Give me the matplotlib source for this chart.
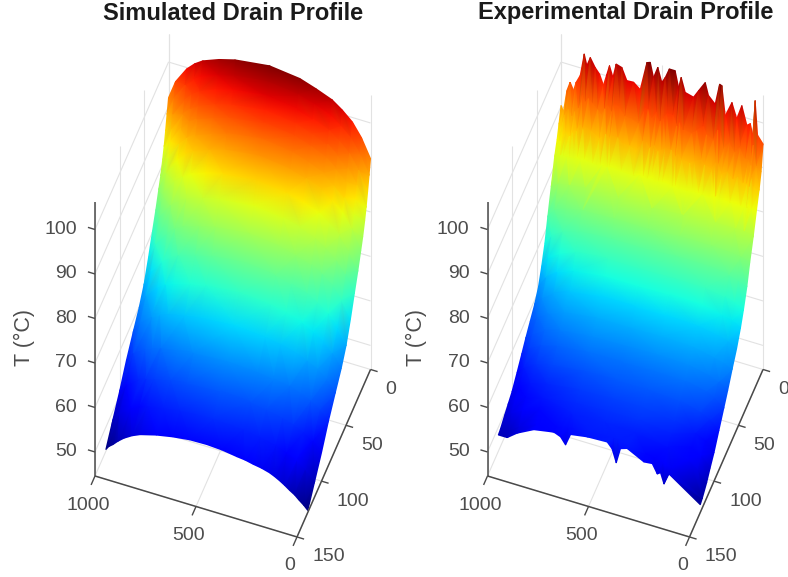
import numpy as np
import matplotlib
matplotlib.use("Agg")
import matplotlib.pyplot as plt
import matplotlib.tri as mtri
from mpl_toolkits.mplot3d import proj3d

plt.rcParams['font.family'] = ['Liberation Sans', 'DejaVu Sans']

x_ticks = [1000, 500, 0]
y_ticks = [0, 50, 100, 150]
z_ticks = [50, 60, 70, 80, 90, 100]
x_lim = (0, 1000)
y_lim = (0, 150)
z_lim = (44.6, 106.2)

# values, x along the drain, y is time
sim_x = [0, 45, 90, 140, 190, 270, 350, 500, 670, 750, 830, 870, 910, 965, 1000]
sim_y = [0, 3, 6, 9, 12, 16, 20, 26, 33, 41, 50, 60, 72, 86, 100, 114, 128]
sim_T = [
    [92, 96.1, 99, 101, 102.6, 104, 105.2, 106, 105, 104, 102.6, 101.4, 99.7, 96.1, 92],
    [89, 93.1, 96.1, 98.1, 99.8, 101.2, 102.3, 103.2, 102.2, 101.2, 99.8, 98.6, 96.8, 93.1, 89],
    [86, 90.3, 93.4, 95.5, 97.2, 98.7, 99.9, 100.8, 99.8, 98.7, 97.2, 96, 94.1, 90.3, 86],
    [83.3, 87.7, 90.9, 93, 94.9, 96.4, 97.6, 98.5, 97.4, 96.3, 94.9, 93.6, 91.7, 87.7, 83.3],
    [81, 85.4, 88.7, 90.8, 92.6, 94.2, 95.4, 96.3, 95.2, 94, 92.6, 91.3, 89.4, 85.4, 81],
    [78.4, 82.8, 86, 88.1, 90, 91.5, 92.7, 93.6, 92.5, 91.4, 90, 88.7, 86.8, 82.8, 78.4],
    [76.3, 80.6, 83.7, 85.7, 87.5, 88.9, 90.1, 91, 90, 88.9, 87.5, 86.3, 84.4, 80.6, 76.3],
    [73.2, 77.2, 80.1, 82, 83.7, 85.1, 86.2, 87, 86, 85, 83.7, 82.5, 80.8, 77.2, 73.2],
    [70, 73.8, 76.5, 78.3, 79.9, 81.2, 82.2, 83, 82.1, 81.1, 79.9, 78.8, 77.2, 73.8, 70],
    [66.2, 69.9, 72.5, 74.3, 75.8, 77, 78, 78.8, 77.9, 77, 75.8, 74.8, 73.1, 69.9, 66.2],
    [62.5, 65.9, 68.4, 70.1, 71.5, 72.6, 73.6, 74.3, 73.5, 72.6, 71.5, 70.5, 69, 65.9, 62.5],
    [59.8, 62.8, 64.9, 66.3, 67.6, 68.6, 69.4, 70, 69.3, 68.6, 67.6, 66.7, 65.4, 62.8, 59.8],
    [57.4, 59.8, 61.5, 62.6, 63.6, 64.5, 65.1, 65.6, 65, 64.4, 63.6, 62.9, 61.9, 59.8, 57.4],
    [54.5, 56.5, 57.9, 58.9, 59.7, 60.3, 60.9, 61.3, 60.8, 60.3, 59.7, 59.1, 58.2, 56.5, 54.5],
    [51, 53, 54.5, 55.5, 56.3, 57, 57.6, 58, 57.5, 57, 56.3, 55.7, 54.9, 53, 51],
    [48, 50.1, 51.7, 52.7, 53.6, 54.4, 55, 55.4, 54.9, 54.3, 53.6, 53, 52.1, 50.1, 48],
    [45, 46.8, 48.3, 49.8, 50.9, 51.7, 52.3, 53, 52.4, 51.7, 50.7, 49.9, 48.8, 46.6, 45],
]
# extra readings along the low outline of the simulated surface
sim_end_x = [20, 65, 115, 165, 230, 310, 425, 585, 940, 985]
sim_end_T = [45.9, 47.6, 49.1, 50.4, 51.4, 52.1, 52.8, 52.9, 47.7, 45.9]

exp_x = [0, 45, 90, 190, 350, 500, 670, 830, 910, 965, 1000]
exp_y = [20, 27, 33, 40, 46, 54, 63, 72, 80, 90, 100, 108, 115]
exp_T = [
    [79.5, 80, 80, 80, 79.5, 79, 79, 79, 78.5, 78, 77],
    [75.5, 76, 76.3, 76.5, 76.5, 76, 76, 75.7, 75, 74, 72],
    [71.5, 72.5, 73, 73.5, 73.5, 73, 73, 72.5, 71.5, 70, 67.5],
    [68, 69, 69.7, 70.5, 70.6, 70.4, 70.4, 69.7, 68.3, 66.5, 63.7],
    [65.5, 66.5, 67, 68, 68.2, 68, 68, 67, 65.5, 63.5, 61],
    [62.8, 63.8, 64.4, 65.2, 65.5, 65.4, 65.4, 64.4, 62.8, 61, 59],
    [60.5, 61.5, 62, 63, 63.2, 63, 63, 62, 60.5, 59, 57.5],
    [58, 59.3, 60.2, 61.2, 61.4, 61.2, 61, 60.2, 59, 57.4, 56],
    [56, 57.5, 58.5, 59.5, 59.7, 59.5, 59.3, 58.5, 57.5, 56, 54.5],
    [53.5, 55.2, 56.2, 57.5, 58, 57.9, 57.6, 56.7, 55.7, 54.2, 52.7],
    [51, 53, 54, 55.5, 56.5, 56.5, 56, 55, 54, 52.5, 51],
    [49.5, 51.8, 53, 54.5, 55.5, 55.6, 55.2, 54, 53, 51.5, 50.2],
    [48, 50.5, 52, 53.5, 54.5, 54.8, 54.5, 53, 52, 50.5, 49.5],
]
# jagged top of the experimental surface, rows at y = 0, 4, 8, 13
exp_top_x = [1000, 988, 971, 955, 938, 925, 905, 885, 872, 855, 831, 809, 790, 773, 760,
             743, 727, 699, 674, 641, 608, 575, 558, 542, 521, 501, 484, 464, 435, 418,
             405, 385, 344, 319, 286, 270, 237, 215, 204, 187, 154, 130, 105, 80, 63,
             50, 39, 27, 0]
exp_top_T0 = [90.3, 89.1, 94, 96.1, 94.5, 96.5, 98.3, 103.4, 101, 103, 101.1, 99.9, 97.7, 100.4, 102.5,
              100.1, 103.3, 102.9, 100.3, 100.4, 99.2, 105.7, 106, 102.8, 105.4, 102.3, 103.6, 105.8, 105.8, 102.3,
              104.7, 101.6, 101.1, 102.9, 105.2, 102.5, 101, 105.8, 105.6, 99.1, 102.5, 99.2, 102.5, 98.4, 99,
              96.5, 104.5, 96.9, 95.3]
exp_top_T4 = [87.2, 86.3, 89.5, 91, 89.8, 91.1, 92, 95, 93.6, 94.8, 93.7, 92.9, 91.8, 93.6, 94.6,
              93.4, 95.1, 95, 93.5, 93.3, 92.7, 96.7, 96.7, 94.8, 96.4, 94.6, 95.4, 96.7, 96.7, 94.6,
              96, 94.2, 93.9, 94.9, 96.3, 94.7, 93.8, 96.5, 96.4, 92.6, 94.5, 92.7, 94.4, 92, 92.2,
              90.8, 95.5, 91, 90]
exp_top_T8 = [84.6, 84.5, 86.2, 87.2, 86.3, 87.2, 87.8, 89.5, 88.6, 89.3, 88.7, 88.2, 87.5, 88.5, 89.1,
              88.4, 89.4, 89.3, 88.4, 88.3, 87.8, 90.1, 90, 88.9, 89.8, 88.8, 89.2, 90, 90, 88.8,
              89.6, 88.5, 88.3, 89, 89.8, 88.9, 88.4, 90.1, 90.1, 87.9, 89, 87.7, 88.7, 87.5, 87.6,
              87, 89.8, 87.4, 87]
exp_top_T13 = [82, 82.3, 82.8, 83, 82.9, 83, 83, 83.5, 83.2, 83.5, 83.3, 83.2, 83, 83.3, 83.5,
               83.3, 83.6, 83.6, 83.3, 83.3, 83.2, 83.8, 83.8, 83.5, 83.8, 83.4, 83.6, 83.8, 83.8, 83.4,
               83.7, 83.4, 83.4, 83.6, 83.8, 83.6, 83.5, 84, 84, 83.6, 83.9, 83.7, 83.9, 83.7, 83.7,
               83.6, 84.2, 83.8, 84]
# jagged low edge of the experimental surface, rows at y = 124, 128
exp_end_x = [1000, 956, 906, 824, 725, 692, 667, 642, 560, 461, 437, 416, 395, 362, 279,
             238, 213, 197, 180, 155, 0]
exp_end_T124 = [48.5, 48.8, 50.3, 52, 52.9, 53.2, 53.3, 53.5, 54.1, 54.2, 54.2, 54.1, 54.1, 54.1, 53,
                52.6, 52.2, 52, 51.7, 51.3, 46.7]
exp_end_T128 = [48.3, 48.3, 50, 51.9, 52.7, 52.1, 50.6, 53.3, 53.9, 54.1, 52.9, 50, 53.5, 54, 52.1,
                52.3, 50.3, 50.8, 48.5, 51.1, 46.3]

W, H = 788, 577
AXC = '#4a4a4a'
GRID = '#e2e2e2'
TXT = '#4d4d4d'

fig = plt.figure(figsize=(W / 100, H / 100), dpi=100)
over = fig.add_axes([0, 0, 1, 1])
over.set_xlim(0, W)
over.set_ylim(H, 0)
over.axis('off')
over.set_zorder(5)


def to_px(ax, xs, ys, zs):
    a, b, _ = proj3d.proj_transform(np.asarray(xs, float), np.asarray(ys, float),
                                    np.asarray(zs, float), ax.get_proj())
    p = ax.transData.transform(np.column_stack([a, b]))
    return p[:, 0], H - p[:, 1]


def make_box(left_px, front_px):
    # 3d axes only gives the projection, everything is drawn on the overlay
    ax = fig.add_axes([0.1, 0.1, 0.8, 0.8], projection='3d', proj_type='ortho')
    ax.set_xlim(*x_lim)
    ax.set_ylim(*y_lim)
    ax.set_zlim(*z_lim)
    ax.view_init(elev=56, azim=110)
    ax.set_box_aspect((1, 1, 2.28))
    ax.set_axis_off()
    ax.apply_aspect()
    u, v = to_px(ax, [1000, 0], [150, 150], [z_lim[0]] * 2)
    k = np.hypot(front_px[0] - left_px[0], front_px[1] - left_px[1]) / np.hypot(u[1] - u[0], v[1] - v[0])
    ax.set_box_aspect((1, 1, 2.28), zoom=k)
    ax.apply_aspect()
    u, v = to_px(ax, [1000], [150], [z_lim[0]])
    pos = ax.get_position(original=True)
    ax.set_position([pos.x0 + (left_px[0] - u[0]) / W, pos.y0 - (left_px[1] - v[0]) / H, pos.width, pos.height])
    ax.apply_aspect()
    return ax


def line(ax, xs, ys, zs, color, lw):
    u, v = to_px(ax, xs, ys, zs)
    over.plot(u, v, color=color, lw=lw, solid_capstyle='butt', zorder=1 if color == GRID else 3)


def draw_frame(ax):
    z0, z1 = z_lim
    for yt in y_ticks:
        line(ax, [0, 1000], [yt, yt], [z0, z0], GRID, 0.8)
        line(ax, [1000, 1000], [yt, yt], [z0, z1], GRID, 0.8)
    for xt in x_ticks:
        line(ax, [xt, xt], [0, 150], [z0, z0], GRID, 0.8)
        line(ax, [xt, xt], [0, 0], [z0, z1], GRID, 0.8)
    for zt in z_ticks:
        line(ax, [1000, 1000], [150, 0], [zt, zt], GRID, 0.8)
        line(ax, [1000, 0], [0, 0], [zt, zt], GRID, 0.8)

    line(ax, [1000, 0], [150, 150], [z0, z0], AXC, 1.1)
    line(ax, [0, 0], [150, 0], [z0, z0], AXC, 1.1)
    line(ax, [1000, 1000], [150, 150], [z0, z1], AXC, 1.1)

    for xt in x_ticks:
        line(ax, [xt, xt], [150, 158], [z0, z0], AXC, 1.0)
        u, v = to_px(ax, [xt], [150], [z0])
        over.annotate(str(xt), (u[0], v[0]), xytext=(-7, -29), textcoords='offset pixels',
                      ha='center', va='center', fontsize=14, color=TXT)
    for yt in y_ticks:
        line(ax, [0, -35], [yt, yt], [z0, z0], AXC, 1.0)
        u, v = to_px(ax, [0], [yt], [z0])
        over.annotate(str(yt), (u[0], v[0]), xytext=(15, -20), textcoords='offset pixels',
                      ha='left', va='center', fontsize=14, color=TXT)
    for zt in z_ticks:
        line(ax, [1000, 1035], [150, 150], [zt, zt], AXC, 1.0)
        u, v = to_px(ax, [1000], [150], [zt])
        over.annotate(str(zt), (u[0], v[0]), xytext=(-18, 0), textcoords='offset pixels',
                      ha='right', va='center', fontsize=14, color=TXT)


def draw_surface(ax, xs, ys, zs):
    xs, ys, zs = np.asarray(xs, float), np.asarray(ys, float), np.asarray(zs, float)
    tri = mtri.Triangulation(xs / 1000.0, ys / 128.0)
    u, v = to_px(ax, xs, ys, zs)
    over.tripcolor(u, v, tri.triangles, zs, shading='gouraud', cmap='jet', vmin=45, vmax=106, zorder=2)


# simulated panel
ax1 = make_box((95, 476), (297, 537))
draw_frame(ax1)
gx, gy = np.meshgrid(sim_x, sim_y)
draw_surface(ax1,
             np.concatenate([gx.ravel(), sim_end_x]),
             np.concatenate([gy.ravel(), np.full(len(sim_end_x), 128)]),
             np.concatenate([np.array(sim_T).ravel(), sim_end_T]))

# experimental panel
ax2 = make_box((487.5, 476), (689.5, 537))
draw_frame(ax2)
gx, gy = np.meshgrid(exp_x, exp_y)
n_top = len(exp_top_x)
n_end = len(exp_end_x)
all_x = np.concatenate([gx.ravel(), exp_top_x, exp_top_x, exp_top_x, exp_top_x, exp_end_x, exp_end_x])
all_y = np.concatenate([gy.ravel(), np.full(n_top, 0), np.full(n_top, 4), np.full(n_top, 8), np.full(n_top, 13),
                        np.full(n_end, 124), np.full(n_end, 128)])
all_T = np.concatenate([np.array(exp_T).ravel(), exp_top_T0, exp_top_T4, exp_top_T8, exp_top_T13,
                        exp_end_T124, exp_end_T128])
draw_surface(ax2, all_x, all_y, all_T)

over.text(233, 13, 'Simulated Drain Profile', ha='center', va='center', fontsize=17,
          fontweight='bold', color='#1a1a1a')
over.text(626, 13, 'Experimental Drain Profile', ha='center', va='center', fontsize=17,
          fontweight='bold', color='#1a1a1a')
over.text(24, 338, 'T (°C)', rotation=90, ha='center', va='center', fontsize=15.5, color=TXT)
over.text(416, 338, 'T (°C)', rotation=90, ha='center', va='center', fontsize=15.5, color=TXT)

fig.savefig('out.png', dpi=100)
